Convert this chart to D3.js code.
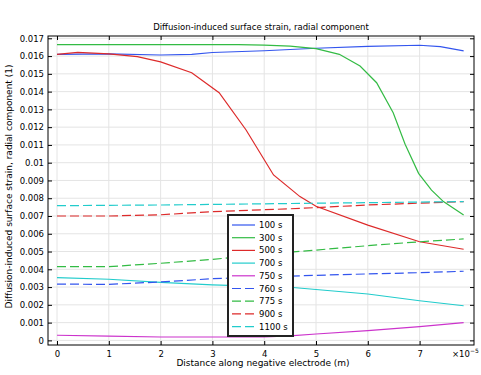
<!DOCTYPE html>
<html>
<head>
<meta charset="utf-8">
<script src="https://cdn.jsdelivr.net/npm/d3@7"></script>
<style>
body { margin: 0; background: #fff; }
text { font-family: "DejaVu Sans", sans-serif; }
</style>
</head>
<body>
<div id="chart"></div>
<script>
// data: x in units of 1e-5 m, strain dimensionless
var names = ["100 s", "300 s", "500 s", "700 s", "750 s", "760 s", "775 s", "900 s", "1100 s"];
var colors = ["#3355ee", "#33bb44", "#dd2a2a", "#22cccc", "#cc33cc", "#3355ee", "#33bb44", "#dd2a2a", "#22cccc"];
var dashed = [false, false, false, false, false, true, true, true, true];

var x100 = [0, 1, 2, 2.6, 3, 4, 5, 6, 7, 7.4, 7.85];
var y100 = [0.01610, 0.01612, 0.01606, 0.01610, 0.01620, 0.01630, 0.01644, 0.01655, 0.01661, 0.01653, 0.01629];
var x300 = [0, 3.5, 4, 4.5, 5, 5.45, 5.85, 6.17, 6.49, 6.72, 6.98, 7.23, 7.46, 7.85];
var y300 = [0.01664, 0.01664, 0.01662, 0.01656, 0.01642, 0.01610, 0.01544, 0.01450, 0.01281, 0.01104, 0.00940, 0.00846, 0.00781, 0.00706];
var x500 = [0, 0.4, 1, 1.55, 2, 2.6, 3.13, 3.65, 4.18, 4.69, 5, 6, 7, 7.85];
var y500 = [0.01610, 0.01621, 0.01612, 0.01597, 0.01567, 0.01506, 0.01394, 0.01184, 0.00931, 0.00809, 0.00755, 0.00649, 0.00555, 0.00513];
var x700 = [0, 1, 2, 3, 4.5, 6, 7, 7.85];
var y700 = [0.00353, 0.00344, 0.00327, 0.00312, 0.00299, 0.00261, 0.00223, 0.00195];
var x750 = [0, 1, 2, 3, 4, 4.5, 5, 6, 7, 7.85];
var y750 = [0.00029, 0.00024, 0.00019, 0.00019, 0.00020, 0.00025, 0.00036, 0.00055, 0.00077, 0.00100];
var x760 = [0, 1, 2, 3, 4.5, 6, 7, 7.85];
var y760 = [0.00317, 0.00315, 0.00329, 0.00347, 0.00362, 0.00374, 0.00381, 0.00389];
var x775 = [0, 1, 2, 3, 4.5, 6, 7, 7.85];
var y775 = [0.00415, 0.00415, 0.00434, 0.00456, 0.00496, 0.00533, 0.00555, 0.00571];
var x900 = [0, 1, 2, 3, 4.7, 6, 7.85];
var y900 = [0.00700, 0.00700, 0.00707, 0.00724, 0.00743, 0.00762, 0.00781];
var x1100 = [0, 2, 4.7, 7.85];
var y1100 = [0.00758, 0.00762, 0.00771, 0.00781];

var xTicks = [0, 1, 2, 3, 4, 5, 6, 7];
var yTicks = [0, 0.001, 0.002, 0.003, 0.004, 0.005, 0.006, 0.007, 0.008, 0.009, 0.01,
  0.011, 0.012, 0.013, 0.014, 0.015, 0.016, 0.017];

var xs = [x100, x300, x500, x700, x750, x760, x775, x900, x1100];
var ys = [y100, y300, y500, y700, y750, y760, y775, y900, y1100];

var W = 481, H = 375;
var margin = {top: 36, right: 7, bottom: 30, left: 48};
var width = W - margin.left - margin.right;
var height = H - margin.top - margin.bottom;
var fs = "8.5px";

var svg = d3.select("#chart").append("svg")
  .attr("width", W)
  .attr("height", H);

var g = svg.append("g")
  .attr("transform", "translate(" + margin.left + "," + margin.top + ")");

var x = d3.scaleLinear().domain([-0.174, 8.05]).range([0, width]);
var y = d3.scaleLinear().domain([-0.00026, 0.01713]).range([height, 0]);

// grid
g.selectAll(".gx").data(xTicks).enter().append("line")
  .attr("x1", function(d) { return x(d); }).attr("x2", function(d) { return x(d); })
  .attr("y1", 0).attr("y2", height)
  .attr("stroke", "#e4e4e4").attr("stroke-width", 1);
g.selectAll(".gy").data(yTicks).enter().append("line")
  .attr("y1", function(d) { return y(d); }).attr("y2", function(d) { return y(d); })
  .attr("x1", 0).attr("x2", width)
  .attr("stroke", "#e4e4e4").attr("stroke-width", 1);

// curves
var line = d3.line()
  .x(function(d) { return x(d[0]); })
  .y(function(d) { return y(d[1]); });

names.forEach(function(n, i) {
  var pts = xs[i].map(function(v, j) { return [v, ys[i][j]]; });
  g.append("path")
    .datum(pts)
    .attr("d", line)
    .attr("fill", "none")
    .attr("stroke", colors[i])
    .attr("stroke-width", 1.2)
    .attr("stroke-dasharray", dashed[i] ? "9,4" : null);
});

// axes, ticks pointing inward
var fmt = function(d) { return d3.format("~g")(+d.toFixed(3)); };
var xAxis = d3.axisBottom(x).tickValues(xTicks).tickSizeInner(-4).tickSizeOuter(0).tickPadding(6);
var yAxis = d3.axisLeft(y).tickValues(yTicks).tickSizeInner(-4).tickSizeOuter(0).tickPadding(4).tickFormat(fmt);

var gx = g.append("g").attr("transform", "translate(0," + height + ")").call(xAxis);
var gy = g.append("g").call(yAxis);
var gx2 = g.append("g").call(d3.axisTop(x).tickValues(xTicks).tickSizeInner(-4).tickSizeOuter(0).tickFormat(""));
var gy2 = g.append("g").attr("transform", "translate(" + width + ",0)")
  .call(d3.axisRight(y).tickValues(yTicks).tickSizeInner(-4).tickSizeOuter(0).tickFormat(""));

[gx, gy, gx2, gy2].forEach(function(a) {
  a.select(".domain").remove();
  a.selectAll("line").attr("stroke", "#000");
  a.selectAll("text").style("font-size", fs).attr("fill", "#000");
});

g.append("rect")
  .attr("width", width).attr("height", height)
  .attr("fill", "none").attr("stroke", "#000").attr("stroke-width", 1);

// exponent label
var ex = g.append("text")
  .attr("x", width - 22).attr("y", height + 12)
  .style("font-size", fs);
ex.append("tspan").text("×10");
ex.append("tspan").attr("dy", -4).style("font-size", "6px").text("−5");

// title and axis labels
svg.append("text")
  .attr("x", margin.left + width / 2).attr("y", 30)
  .attr("text-anchor", "middle")
  .style("font-size", fs)
  .text("Diffusion-induced surface strain, radial component");

svg.append("text")
  .attr("x", margin.left + width / 2 + 2).attr("y", 366)
  .attr("text-anchor", "middle")
  .style("font-size", "9px")
  .text("Distance along negative electrode (m)");

svg.append("text")
  .attr("transform", "translate(12," + (margin.top + height / 2 - 4) + ") rotate(-90)")
  .attr("text-anchor", "middle")
  .style("font-size", "9px")
  .text("Diffusion-induced surface strain, radial component (1)");

// legend
var lg = svg.append("g").attr("transform", "translate(228,215)");
lg.append("rect")
  .attr("width", 65).attr("height", 121)
  .attr("fill", "#fff").attr("stroke", "#222").attr("stroke-width", 2);
names.forEach(function(n, i) {
  var yy = 10 + i * 12.7;
  lg.append("line")
    .attr("x1", 4).attr("x2", 27).attr("y1", yy).attr("y2", yy)
    .attr("stroke", colors[i]).attr("stroke-width", 1.2)
    .attr("stroke-dasharray", dashed[i] ? "9,4" : null);
  lg.append("text")
    .attr("x", 31).attr("y", yy + 3)
    .style("font-size", fs)
    .text(n);
});
</script>
</body>
</html>
